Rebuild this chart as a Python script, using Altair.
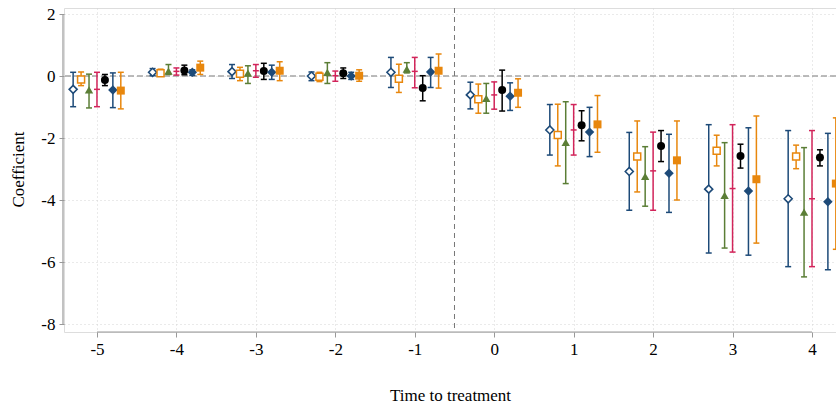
import altair as alt
import pandas as pd

# ---------------- data ----------------
times = [-5, -4, -3, -2, -1, 0, 1, 2, 3, 4]
series = ["S1", "S2", "S3", "S4", "S5", "S6", "S7"]
offsets = [-0.3, -0.2, -0.1, 0.0, 0.1, 0.2, 0.3]

coef_S1 = [-0.43, 0.12, 0.14, 0.00, 0.12, -0.61, -1.74, -3.08, -3.65, -3.96]
hi_S1 = [0.12, 0.24, 0.37, 0.13, 0.60, -0.20, -0.92, -1.82, -1.57, -1.76]
lo_S1 = [-0.99, 0.01, -0.08, -0.15, -0.37, -1.06, -2.55, -4.33, -5.71, -6.15]

coef_S2 = [-0.11, 0.09, 0.07, -0.02, -0.09, -0.75, -1.90, -2.60, -2.41, -2.60]
hi_S2 = [0.13, 0.22, 0.28, 0.12, 0.38, -0.26, -0.91, -1.45, -1.91, -2.23]
lo_S2 = [-0.31, 0.00, -0.15, -0.18, -0.53, -1.20, -2.90, -3.74, -2.90, -2.99]

coef_S3 = [-0.45, 0.16, 0.09, 0.12, 0.22, -0.72, -2.14, -3.24, -3.85, -4.39]
hi_S3 = [0.06, 0.37, 0.33, 0.43, 0.43, -0.24, -0.83, -2.28, -2.15, -2.31]
lo_S3 = [-1.03, 0.05, -0.24, -0.24, 0.10, -1.20, -3.47, -4.20, -5.55, -6.48]

coef_S4 = [-0.43, 0.15, 0.17, 0.01, 0.15, -0.61, -1.74, -3.06, -3.63, -3.96]
hi_S4 = [0.12, 0.26, 0.37, 0.16, 0.60, -0.19, -0.92, -1.81, -1.57, -1.76]
lo_S4 = [-0.99, 0.03, -0.04, -0.17, -0.38, -1.07, -2.55, -4.33, -5.68, -6.15]

coef_S5 = [-0.13, 0.18, 0.16, 0.09, -0.39, -0.45, -1.59, -2.26, -2.58, -2.63]
hi_S5 = [0.05, 0.35, 0.41, 0.26, 0.01, 0.19, -1.12, -1.76, -2.20, -2.38]
lo_S5 = [-0.31, 0.04, -0.11, -0.08, -0.80, -1.13, -2.09, -2.76, -2.97, -2.90]

coef_S6 = [-0.45, 0.12, 0.12, 0.00, 0.13, -0.65, -1.81, -3.14, -3.71, -4.06]
hi_S6 = [0.10, 0.20, 0.35, 0.12, 0.60, -0.22, -1.01, -1.88, -1.67, -1.85]
lo_S6 = [-1.02, 0.02, -0.11, -0.11, -0.37, -1.11, -2.60, -4.40, -5.78, -6.25]

coef_S7 = [-0.47, 0.27, 0.17, 0.01, 0.17, -0.54, -1.56, -2.72, -3.33, -3.47]
hi_S7 = [0.12, 0.48, 0.46, 0.20, 0.71, -0.09, -0.63, -1.45, -1.29, -1.35]
lo_S7 = [-1.06, 0.05, -0.15, -0.17, -0.39, -1.01, -2.46, -4.00, -5.39, -5.59]

y_ticks = [-8, -6, -4, -2, 0, 2]

coefs = [coef_S1, coef_S2, coef_S3, coef_S4, coef_S5, coef_S6, coef_S7]
his = [hi_S1, hi_S2, hi_S3, hi_S4, hi_S5, hi_S6, hi_S7]
los = [lo_S1, lo_S2, lo_S3, lo_S4, lo_S5, lo_S6, lo_S7]

rows = []
for s, off, c, h, l in zip(series, offsets, coefs, his, los):
    for t, cv, hv, lv in zip(times, c, h, l):
        rows.append({"series": s, "t": t, "x": t + off, "coef": cv, "hi": hv, "lo": lv})
df = pd.DataFrame(rows)

# ---------------- style ----------------
FONT = "Liberation Serif"
BLUE = "#1d4a78"
ORANGE = "#e8870d"
GREEN = "#5b7e36"
CRIMSON = "#d2245a"
BLACK = "#000000"
colors = [BLUE, ORANGE, GREEN, CRIMSON, BLACK, BLUE, ORANGE]
DASH = "M-1,0L1,0"
LABEL_EXPR = "'' + datum.value"

x_scale = alt.Scale(domain=[-5.415, 4.302], nice=False, zero=False)
y_scale = alt.Scale(domain=[-8.258, 2.194], nice=False, zero=False)

x_axis = alt.Axis(
    values=times, domain=False, grid=True, gridDash=[1, 3], gridColor="#d5d5d5",
    ticks=True, tickSize=5, tickColor="#999999", labelFont=FONT, labelFontSize=17,
    labelColor="black", labelPadding=4, labelExpr=LABEL_EXPR,
    title="Time to treatment", titleFont=FONT,
    titleFontSize=17, titleFontWeight="normal", titleColor="black",
    titleY=63, titleBaseline="middle",
)
y_axis = alt.Axis(
    values=y_ticks, domain=False, grid=True, gridDash=[1, 3], gridColor="#d5d5d5",
    ticks=True, tickSize=5, tickColor="#999999", labelFont=FONT, labelFontSize=17,
    labelColor="black", labelPadding=4, labelExpr=LABEL_EXPR,
    title="Coefficient", titleFont=FONT,
    titleFontSize=17, titleFontWeight="normal", titleColor="black",
    titleX=-46, titleY=161, titleBaseline="middle", titleAngle=-90,
)

X = alt.X("x:Q", scale=x_scale, axis=x_axis)
color = alt.Color("series:N", scale=alt.Scale(domain=series, range=colors), legend=None)
stroke = alt.Stroke("series:N", scale=alt.Scale(domain=series, range=colors), legend=None)

base = alt.Chart(df)

rules = base.mark_rule(strokeWidth=1.5, clip=True).encode(
    x=X, y=alt.Y("lo:Q", scale=y_scale, axis=y_axis), y2="hi:Q", color=color
)
cap_lo = base.mark_point(shape=DASH, size=36, filled=False, strokeWidth=1.5, opacity=1, clip=True).encode(
    x=X, y=alt.Y("lo:Q", scale=y_scale, axis=y_axis), color=color
)
cap_hi = base.mark_point(shape=DASH, size=36, filled=False, strokeWidth=1.5, opacity=1, clip=True).encode(
    x=X, y=alt.Y("hi:Q", scale=y_scale, axis=y_axis), color=color
)

hollow_diamond = base.transform_filter(alt.datum.series == "S1").mark_point(
    shape="diamond", size=64, fill="white", filled=False, strokeWidth=1.6, opacity=1, clip=True
).encode(x=X, y=alt.Y("coef:Q", scale=y_scale, axis=y_axis), stroke=stroke)
hollow_square = base.transform_filter(alt.datum.series == "S2").mark_point(
    shape="square", size=49, fill="white", filled=False, strokeWidth=1.5, opacity=1, clip=True
).encode(x=X, y=alt.Y("coef:Q", scale=y_scale, axis=y_axis), stroke=stroke)
crimson_dash = base.transform_filter(alt.datum.series == "S4").mark_point(
    shape=DASH, size=36, filled=False, strokeWidth=1.5, opacity=1, clip=True
).encode(x=X, y=alt.Y("coef:Q", scale=y_scale, axis=y_axis), stroke=stroke)
triangle = base.transform_filter(alt.datum.series == "S3").mark_point(
    shape="triangle-up", size=70, filled=True, opacity=1, clip=True
).encode(x=X, y=alt.Y("coef:Q", scale=y_scale, axis=y_axis), color=color)
circle = base.transform_filter(alt.datum.series == "S5").mark_point(
    shape="circle", size=64, filled=True, opacity=1, clip=True
).encode(x=X, y=alt.Y("coef:Q", scale=y_scale, axis=y_axis), color=color)
fdiamond = base.transform_filter(alt.datum.series == "S6").mark_point(
    shape="diamond", size=90, filled=True, opacity=1, clip=True
).encode(x=X, y=alt.Y("coef:Q", scale=y_scale, axis=y_axis), color=color)
fsquare = base.transform_filter(alt.datum.series == "S7").mark_point(
    shape="square", size=64, filled=True, opacity=1, clip=True
).encode(x=X, y=alt.Y("coef:Q", scale=y_scale, axis=y_axis), color=color)

zero_line = alt.Chart(pd.DataFrame({"v": [0]})).mark_rule(
    color="#a5a5a5", strokeDash=[6, 3], strokeWidth=1.5
).encode(y=alt.Y("v:Q", scale=y_scale, axis=y_axis))

treat_line = alt.Chart(pd.DataFrame({"v": [-0.5]})).mark_rule(
    color="#777777", strokeDash=[5, 4], strokeWidth=1
).encode(x=alt.X("v:Q", scale=x_scale, axis=x_axis))

xaxis_line = alt.Chart(pd.DataFrame({"a": [times[0]], "b": [times[-1]]})).mark_rule(
    color="#999999", strokeWidth=1.2
).encode(x=alt.X("a:Q", scale=x_scale, axis=x_axis), x2="b:Q", y=alt.value(324))

yaxis_line = alt.Chart(pd.DataFrame({"a": [y_ticks[0]], "b": [y_ticks[-1]]})).mark_rule(
    color="#999999", strokeWidth=1.2
).encode(y=alt.Y("a:Q", scale=y_scale, axis=y_axis), y2="b:Q", x=alt.value(-1))

chart = alt.layer(
    zero_line, treat_line, xaxis_line, yaxis_line,
    rules, cap_lo, cap_hi,
    hollow_diamond, hollow_square, triangle, crimson_dash, circle, fdiamond, fsquare,
).properties(
    width=772, height=324,
    padding={"left": 64, "top": 8, "right": 0, "bottom": 78},
    autosize=alt.AutoSizeParams(type="none"),
    background="white",
).configure_view(stroke=None).configure(font=FONT)

chart.save("out.html", embed_options={"renderer": "svg", "actions": False})
